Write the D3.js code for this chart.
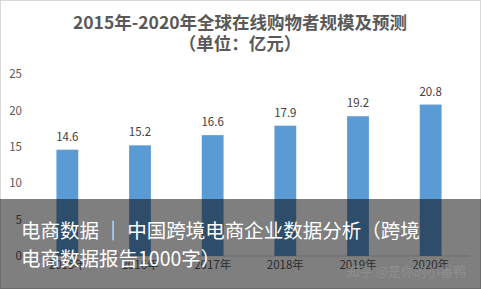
<!DOCTYPE html>
<html>
<head>
<meta charset="utf-8">
<script src="https://cdn.jsdelivr.net/npm/d3@7"></script>
<style>
  html, body { margin: 0; padding: 0; background: #fff; }
  svg { display: block; }
</style>
</head>
<body>
<script>
const years = ["2015年", "2016年", "2017年", "2018年", "2019年", "2020年"];
const shoppers = [14.6, 15.2, 16.6, 17.9, 19.2, 20.8];
const yTicks = [0, 5, 10, 15, 20, 25];
const titleLines = ["2015年-2020年全球在线购物者规模及预测", "（单位：亿元）"];
const overlayLines = ["电商数据 ｜ 中国跨境电商企业数据分析（跨境", "电商数据报告1000字）"];
const watermark = "知乎 @是你的小番鸭";

const width = 481, height = 289;
const font = "'Noto Sans CJK SC', 'Noto Sans', sans-serif";

const svg = d3.select("body").append("svg")
  .attr("width", width)
  .attr("height", height);

// outer frame
svg.append("rect")
  .attr("x", 0.5).attr("y", 0.5)
  .attr("width", width - 1).attr("height", height - 1)
  .attr("fill", "#fff")
  .attr("stroke", "#d9d9d9");

// title
svg.selectAll(".title")
  .data(titleLines)
  .enter().append("text")
  .attr("class", "title")
  .attr("x", 240)
  .attr("y", (d, i) => 29 + i * 21)
  .attr("text-anchor", "middle")
  .attr("font-family", font)
  .attr("font-size", 17.5)
  .attr("font-weight", "bold")
  .attr("fill", "#595959")
  .text(d => d);

// scales
const x = d3.scaleBand().domain(years).range([31, 467]).paddingInner(0.7).paddingOuter(0.35);
const y = d3.scaleLinear().domain([0, 25]).range([256, 74]);

// y tick labels (no axis line, like the source)
svg.append("g")
  .attr("transform", "translate(22,0)")
  .call(d3.axisLeft(y).tickValues(yTicks).tickSize(0).tickPadding(0))
  .call(g => g.select(".domain").remove())
  .call(g => g.selectAll("text")
    .attr("font-family", font)
    .attr("font-size", 11.5)
    .attr("fill", "#595959"));

// baseline
svg.append("line")
  .attr("x1", 22).attr("x2", 470)
  .attr("y1", y(0)).attr("y2", y(0))
  .attr("stroke", "#d9d9d9");

// bars
svg.selectAll(".bar")
  .data(shoppers)
  .enter().append("rect")
  .attr("class", "bar")
  .attr("x", (d, i) => x(years[i]))
  .attr("y", d => y(d))
  .attr("width", x.bandwidth())
  .attr("height", d => y(0) - y(d))
  .attr("fill", "#5b9bd5");

// value labels
svg.selectAll(".val")
  .data(shoppers)
  .enter().append("text")
  .attr("class", "val")
  .attr("x", (d, i) => x(years[i]) + x.bandwidth() / 2)
  .attr("y", d => y(d) - 9)
  .attr("text-anchor", "middle")
  .attr("font-family", font)
  .attr("font-size", 11.5)
  .attr("fill", "#404040")
  .text(d => d.toFixed(1));

// x axis labels
svg.append("g")
  .attr("transform", `translate(0,${y(0)})`)
  .call(d3.axisBottom(x).tickSize(0).tickPadding(5))
  .call(g => g.select(".domain").remove())
  .call(g => g.selectAll("text")
    .attr("font-family", font)
    .attr("font-size", 11.5)
    .attr("fill", "#595959"));

// dark caption band over the lower part
svg.append("rect")
  .attr("x", 0).attr("y", 199)
  .attr("width", width).attr("height", height - 199)
  .attr("fill", "#000")
  .attr("opacity", 0.5);

svg.append("text")
  .attr("x", 466).attr("y", 276)
  .attr("text-anchor", "end")
  .attr("font-family", font)
  .attr("font-size", 13)
  .attr("fill", "#9a9a9a")
  .attr("opacity", 0.6)
  .text(watermark);

svg.selectAll(".caption")
  .data(overlayLines)
  .enter().append("text")
  .attr("class", "caption")
  .attr("x", 21)
  .attr("y", (d, i) => 238 + i * 28)
  .attr("font-family", font)
  .attr("font-size", 19.5)
  .attr("fill", "#fff")
  .text(d => d);
</script>
</body>
</html>
